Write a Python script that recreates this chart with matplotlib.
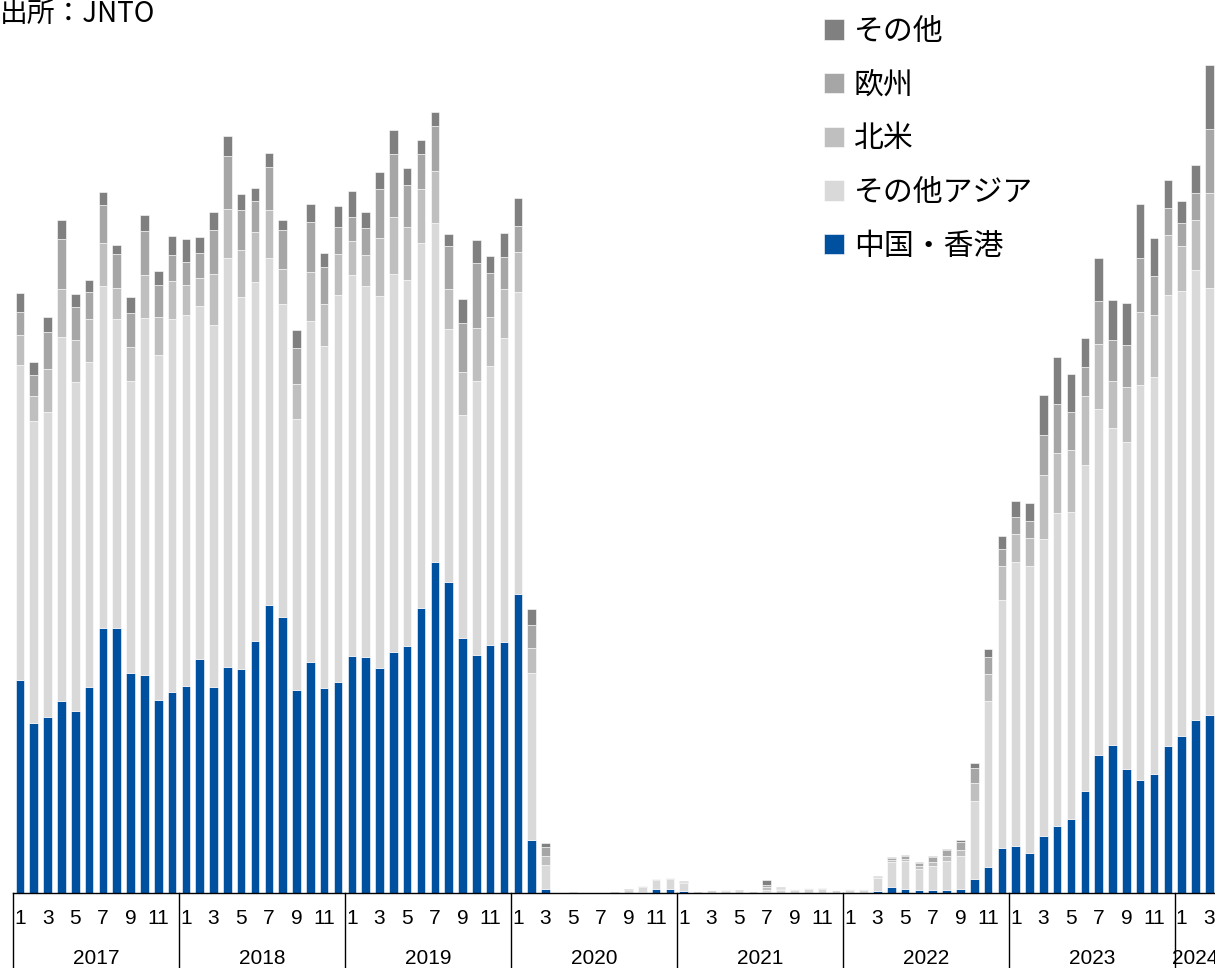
import numpy as np
import matplotlib.pyplot as plt
import matplotlib.transforms as mtransforms

plt.rcParams['font.family'] = ['Noto Sans CJK JP', 'DejaVu Sans']

# 月別の訪日客数（2017年1月～2024年3月）
years = ["2017", "2018", "2019", "2020", "2021", "2022", "2023", "2024"]
months_per_year = [12, 12, 12, 12, 12, 12, 12, 3]

china_hk = [213, 170, 176, 192, 182, 206, 265, 265, 220, 218, 193, 201,
            207, 234, 206, 226, 224, 252, 288, 276, 203, 231, 205, 211,
            237, 236, 225, 241, 247, 285, 331, 311, 255, 238, 248, 251,
            299, 53, 4.3, 0.1, 0.05, 0.1, 0.2, 0.3, 0.5, 0.7, 4.3, 4.3,
            2.0, 0.3, 0.4, 0.3, 0.2, 0.2, 0.7, 0.5, 0.4, 0.4, 0.4, 0.3,
            0.4, 0.4, 2.3, 5.7, 4.0, 3.3, 3.3, 3.0, 4.3, 14.3, 26, 45,
            47, 40, 57, 67, 74, 102, 138, 148, 124, 113, 119, 147,
            157, 173, 178]
other_asia = [315, 302, 305, 364, 329, 325, 342, 309, 292, 357, 345, 373,
              371, 353, 362, 409, 372, 359, 347, 313, 271, 341, 342, 387,
              381, 371, 372, 378, 366, 365, 339, 253, 223, 274, 279, 304,
              302, 167, 24, 0.6, 0.3, 0.6, 0.8, 1.5, 2.2, 5.0, 8.7, 9.5,
              8.5, 1.4, 2.2, 1.9, 1.8, 1.7, 2.7, 2.7, 2.8, 3.8, 3.6, 2.4,
              3.1, 3.0, 12.7, 25.0, 27.7, 20.7, 24.0, 29.3, 33.0, 78, 166, 248,
              284, 287, 297, 313, 307, 326, 346, 317, 327, 395, 397, 451,
              445, 450, 427]
north_america = [30, 25, 43, 48, 42, 43, 43, 31, 34, 43, 38, 38,
                 30, 28, 51, 49, 47, 50, 48, 35, 35, 49, 42, 41,
                 34, 31, 58, 57, 53, 54, 52, 40, 43, 53, 49, 49,
                 40, 25, 8.3, 0.1, 0.05, 0.1, 0.1, 0.2, 0.3, 0.4, 0.4, 0.4,
                 0.4, 0.1, 0.3, 0.2, 0.2, 0.2, 2.3, 1.0, 0.4, 0.4, 0.4, 0.3,
                 0.3, 0.3, 0.8, 2.7, 2.7, 2.7, 3.7, 5.0, 6.0, 18, 27, 34,
                 28, 28, 64, 60, 62, 69, 65, 47, 55, 73, 62, 60,
                 45, 50, 95]
europe = [23, 21, 37, 50, 33, 27, 38, 34, 34, 44, 32, 26,
          23, 25, 44, 53, 40, 31, 43, 39, 36, 50, 37, 27,
          24, 27, 49, 63, 42, 35, 45, 43, 49, 65, 44, 32,
          26, 23, 9.7, 0.2, 0.1, 0.1, 0.2, 0.3, 0.4, 0.6, 0.5, 0.5,
          0.5, 0.2, 0.3, 0.2, 0.2, 0.2, 2.3, 1.0, 0.4, 0.4, 0.4, 0.2,
          0.3, 0.3, 0.7, 2.0, 2.3, 3.3, 5.3, 5.3, 8.0, 14.7, 17, 17,
          17, 17, 40, 49, 38, 29, 43, 41, 42, 54, 39, 27,
          23, 27, 64]
others = [19, 13, 15, 19, 13, 12, 13, 9, 16, 16, 14, 19,
          23, 16, 18, 20, 16, 13, 14, 10, 18, 18, 14, 21,
          26, 16, 17, 24, 17, 14, 14, 12, 24, 23, 17, 24,
          28, 16, 4, 0.1, 0.05, 0.1, 0.1, 0.2, 0.3, 0.5, 0.6, 0.6,
          0.6, 0.2, 0.3, 0.3, 0.2, 0.2, 5.3, 1.3, 0.5, 0.5, 0.4, 0.3,
          0.4, 0.4, 0.5, 0.9, 1.6, 1.3, 1.0, 1.4, 2.0, 5, 8, 13,
          16, 18, 40, 47, 38, 29, 43, 40, 42, 54, 38, 28,
          22, 28, 64]

series = [("中国・香港", china_hk, "#0050a0"),
          ("その他アジア", other_asia, "#d9d9d9"),
          ("北米", north_america, "#bfbfbf"),
          ("欧州", europe, "#a6a6a6"),
          ("その他", others, "#808080")]


def draw():
    fig = plt.figure(figsize=(12.15, 9.68), dpi=100)
    ax = fig.add_axes([0, 75 / 968, 1, 893 / 968])

    x = np.arange(len(china_hk))
    bottom = np.zeros(len(x))
    handles = []
    for name, vals, color in series:
        bars = ax.bar(x, vals, width=0.62, bottom=bottom, color=color,
                      edgecolor="white", linewidth=0.4, label=name)
        handles.append(bars)
        bottom = bottom + np.array(vals)

    ax.set_xlim(-1.44, 86.41)
    ax.set_ylim(0, 893)
    for s in ax.spines.values():
        s.set_visible(False)
    ax.set_xticks([])
    ax.set_yticks([])

    trans = ax.get_xaxis_transform()
    ax.plot([-0.5, 86.41], [0, 0], color="black", lw=1.0, transform=trans,
            clip_on=False)

    # 月ラベルと年の区切り（2024は右端で切れる）
    start = 0
    for yr, n in zip(years, months_per_year):
        ax.plot([start - 0.5, start - 0.5], [0, -0.09], color="black", lw=1.0,
                transform=trans, clip_on=False)
        for m in range(1, n + 1, 2):
            ax.text(start + m - 1, -25 / 893, str(m), transform=trans,
                    ha="center", va="center", fontsize=15,
                    family=["Liberation Sans", "DejaVu Sans"])
        right = min(start + n - 0.5, 86.41)
        ax.text((start - 0.5 + right) / 2, -65 / 893, yr, transform=trans,
                ha="center", va="center", fontsize=15,
                family=["Liberation Sans", "DejaVu Sans"])
        start += n

    fig.text(0, 1 - 14 / 968, "出所：JNTO", ha="left", va="center", fontsize=20)

    ax.legend(handles[::-1], [s[0] for s in series][::-1],
              loc="upper left", bbox_to_anchor=(824 / 1215, 1 - 16 / 968),
              bbox_transform=fig.transFigure, frameon=False, fontsize=21.5,
              handlelength=0.67, handleheight=0.67, handletextpad=0.33,
              labelspacing=0.76, borderpad=0, borderaxespad=0)

    fig.savefig("out.png", dpi=100)


if __name__ == '__main__':
    draw()
